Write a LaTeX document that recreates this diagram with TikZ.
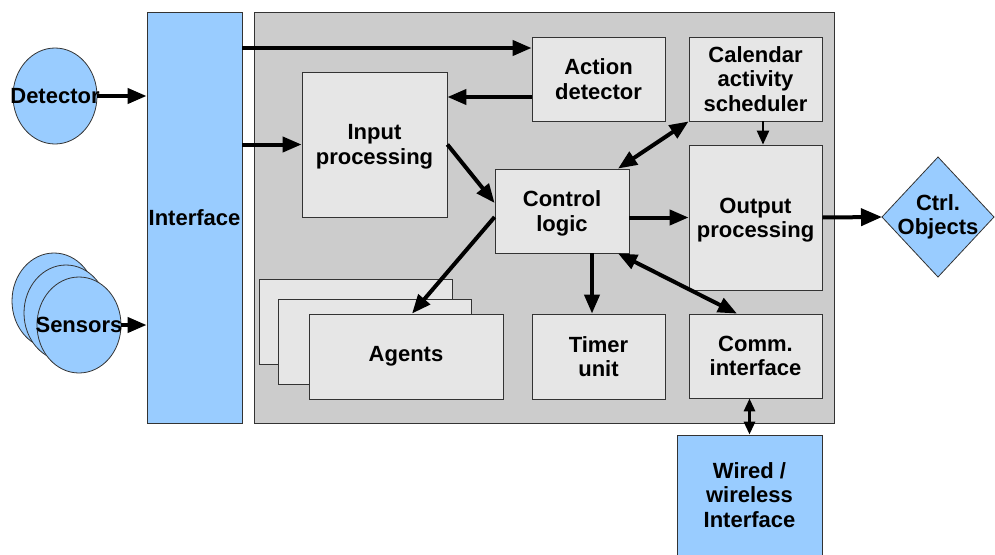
\documentclass[tikz,border=0pt]{standalone}
\usepackage{fontspec}
\setmainfont{Liberation Sans}
\usetikzlibrary{arrows.meta,shapes.geometric}
\definecolor{bluef}{HTML}{99CCFF}
\definecolor{grayf}{HTML}{CCCCCC}
\definecolor{boxf}{HTML}{E6E6E6}
\definecolor{edge}{HTML}{333333}
\begin{document}
\begin{tikzpicture}[x=1pt,y=1pt,
  every node/.style={font=\fontsize{22}{24.5}\selectfont\bfseries, align=center, inner sep=0pt},
  box/.style={draw=edge, fill=boxf, line width=0.8pt},
  bluebox/.style={draw=edge, fill=bluef, line width=0.8pt},
  arr/.style={line width=4pt, -{Triangle[length=19pt,width=15pt]}},
  barr/.style={line width=4pt, -{Triangle[length=21pt,width=17pt]}},
  darr/.style={line width=4pt, {Triangle[length=19pt,width=15pt]}-{Triangle[length=19pt,width=15pt]}},
  sarr/.style={line width=2.5pt, -{Triangle[length=14pt,width=12pt]}},
  sdarr/.style={line width=3pt, {Triangle[length=13pt,width=11pt]}-{Triangle[length=13pt,width=11pt]}},
]
\useasboundingbox (0,0) rectangle (995,-554);

% containers
\node[bluebox, minimum width=95pt, minimum height=411pt] (iface) at (194.5,-217.5) {};
\node at (194.5,-217.5) {Interface};
\node[draw=edge, fill=grayf, line width=0.8pt, minimum width=580pt, minimum height=411pt] (big) at (544,-217.5) {};

% left inputs
\node[bluebox, ellipse, minimum width=84pt, minimum height=96pt] (det) at (55,-96) {};
\node (detl) at (55,-96) {Detector};
\node[bluebox, ellipse, minimum width=84pt, minimum height=96pt] (s1) at (54,-301) {};
\node[bluebox, ellipse, minimum width=84pt, minimum height=96pt] (s2) at (66,-313) {};
\node[bluebox, ellipse, minimum width=84pt, minimum height=96pt] (s3) at (79,-325) {};
\node (sl) at (79,-325) {Sensors};

% inner boxes
\node[box, minimum width=133pt, minimum height=84pt] (act) at (598.5,-79) {Action\\detector};
\node[box, minimum width=133pt, minimum height=84pt] (cal) at (755.5,-79) {Calendar\\activity\\scheduler};
\node[box, minimum width=145pt, minimum height=145pt] (inp) at (374.5,-144.5) {};
\node at (374.5,-147) {Input\\processing};
\node[box, minimum width=134pt, minimum height=84pt] (ctl) at (562,-211) {};
\node at (562,-213.5) {Control\\logic};
\node[box, minimum width=133pt, minimum height=145pt] (out) at (755.5,-217.5) {};
\node at (755.5,-220) {Output\\processing};
\node[box, minimum width=193pt, minimum height=85pt] (ag1) at (355.5,-321.5) {};
\node[box, minimum width=193pt, minimum height=85pt] (ag2) at (374.5,-341.5) {};
\node[box, minimum width=194pt, minimum height=85pt] (ag3) at (406,-356.5) {Agents};
\node[box, minimum width=133pt, minimum height=85pt] (tim) at (598.5,-356.5) {Timer\\unit};
\node[box, minimum width=133pt, minimum height=84pt] (com) at (755.5,-356) {Comm.\\interface};
\node[bluebox, minimum width=145pt, minimum height=120pt] (wir) at (749.5,-495) {Wired /\\wireless\\Interface};

% diamond
\coordinate (objW) at (882,-217);
\coordinate (objN) at (938,-157);
\coordinate (objE) at (994,-217);
\coordinate (objS) at (938,-277);
\draw[bluebox] (objW) -- (objN) -- (objE) -- (objS) -- cycle;
\node (obj) at (938,-217) {Ctrl.\\Objects};

% connectors
\draw[arr] (det.east) -- (det.east -| iface.west);
\draw[arr] (s3.east) -- (s3.east -| iface.west);
\draw[arr] ([yshift=31pt]act.west -| iface.east) -- ([yshift=31pt]act.west);
\draw[arr] (inp.west -| iface.east) -- (inp.west);
\draw[arr] ([yshift=-18pt]act.west) -- ([yshift=-18pt]act.west -| inp.east);
\draw[arr] (inp.east) -- ([yshift=8pt]ctl.west);
\draw[darr] ([xshift=56pt]ctl.north) -- (cal.south west);
\draw[sarr] ([xshift=7.5pt]cal.south) -- ([xshift=7.5pt]out.north);
\draw[arr] (ctl.east |- out.west) -- (out.west);
\draw[barr] (out.east) -- (objW);
\draw[arr] ([yshift=-6pt]ctl.west) -- ([xshift=6pt]ag3.north);
\draw[arr] ([xshift=30pt]ctl.south) -- ([xshift=30pt]ctl.south |- tim.north);
\draw[darr] ([xshift=56pt]ctl.south) -- ([xshift=-18.5pt]com.north);
\draw[sdarr] (wir.north |- com.south) -- (wir.north);
\end{tikzpicture}
\end{document}
